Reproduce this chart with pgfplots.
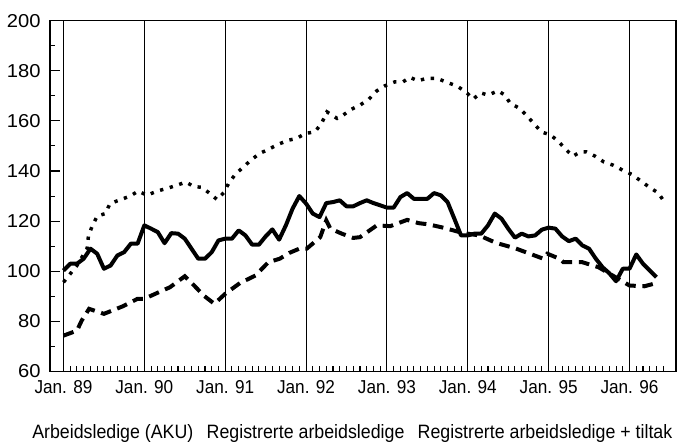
\documentclass[border=0pt]{standalone}
\usepackage{pgfplots}
\pgfplotsset{compat=1.18}
\usepackage{fontspec}
\setmainfont{Liberation Sans}[FakeStretch=0.92]
\newfontfamily\yfont{Liberation Sans}[FakeStretch=1.08]
\begin{document}
\begin{tikzpicture}
\begin{axis}[
  scale only axis,
  width=469.5pt, height=263.1pt,
  xmin=-2, xmax=90.9, ymin=60, ymax=200,
  xtick={0,12,24,36,48,60,72,84},
  xticklabels={Jan. 89,Jan. 90,Jan. 91,Jan. 92,Jan. 93,Jan. 94,Jan. 95,Jan. 96},
  minor xtick={1,...,11,13,14,...,23,25,26,...,35,37,38,...,47,49,50,...,59,61,62,...,71,73,74,...,83,85,86,...,89},
  ytick={60,80,...,200},
  minor ytick={70,90,...,190},
  xtick pos=left, ytick pos=left,
  tick align=inside,
  major tick length=7.5pt, minor tick length=4pt,
  xmajorgrids, major grid style={black, line width=0.8pt},
  tick style={black, line width=0.8pt},
  axis line style={black, line width=0.9pt},
  /pgf/number format/assume math mode=true,
  xticklabel style={font=\fontsize{14}{16}\selectfont, yshift=-3.5pt},
  yticklabel style={font=\yfont\fontsize{14}{16}\selectfont, xshift=-3.5pt},
  xlabel={Arbeidsledige (AKU)\hspace{10pt}Registrerte arbeidsledige\hspace{10pt}Registrerte arbeidsledige + tiltak},
  xlabel style={font=\fontsize{14.5}{17}\selectfont, xshift=-8pt, yshift=-16pt},
  clip=false,
]
% Arbeidsledige (AKU)
\addplot[black, line width=3pt, line join=round] coordinates {
(0,100.3)(1,103)(2,103)(3,105)(4,109)(5,107)(6,101)(7,102.3)(8,106.3)(9,107.6)(10,111)(11,111)
(12,118.3)(13,117)(14,115.6)(15,111.2)(16,115.2)(17,115)(18,113)(19,109)(20,105)(21,105)(22,107.6)(23,112.3)
(24,113)(25,113)(26,116.3)(27,114.3)(28,110.6)(29,110.6)(30,113.9)(31,116.7)(32,112.6)(33,118.3)(34,125)(35,130)
(36,127)(37,123)(38,121.6)(39,127.2)(40,127.6)(41,128.3)(42,125.9)(43,125.9)(44,127.2)(45,128.3)(46,127.2)(47,126.3)
(48,125.4)(49,125.4)(50,129.6)(51,131.2)(52,128.9)(53,128.9)(54,128.9)(55,131.2)(56,130.3)(57,127.6)(58,121)(59,114.3)
(60,114.3)(61,115)(62,115)(63,118.3)(64,123)(65,121)(66,117)(67,113.4)(68,115)(69,113.9)(70,114.3)(71,116.6)
(72,117.4)(73,117)(74,113.9)(75,112)(76,113)(77,110.3)(78,109)(79,105)(80,101.6)(81,99.2)(82,96)(83,101)
(84,101)(85,106.7)(86,103)(87,100.3)(88,97.6)
};
% Registrerte arbeidsledige
\addplot[black, line width=3pt, dash pattern=on 8pt off 5pt] coordinates {
(0,74.3)(2,76.3)(2.7,80.3)(3.8,85)(6,83)(8.8,86)(11,89)(12,89)(14.7,92.3)(15.8,93.6)(18,98)(19.5,94)
(20.8,90.3)(22.4,87)(24,91)(26.2,95.3)(28.5,98.3)(30.4,103.6)(32.1,105)(33.5,107.3)(35,109)(36.1,109)
(38.1,113.6)(39,120.3)(39.6,117)(41.3,115)(43,113.3)(44,113.6)(46.5,118.3)(48.5,118)(51,120.5)(52.7,119.2)
(54.2,118.7)(56.5,117.3)(59.2,115.3)(61.7,114.3)(64.2,111.3)(67,109.2)(69.6,106.6)(71.2,105)(71.8,107)
(73.6,105)(74.2,103.6)(77,103.6)(79.4,101.6)(82,97.5)(84,94.3)(86.2,94)(88.3,95.5)
};
% Registrerte arbeidsledige + tiltak
\addplot[black, line width=2.6pt, dash pattern=on 2.5pt off 5pt] coordinates {
(0,95.6)(2,102.3)(3.5,109)(3.7,114)(4.2,117.6)(5,122)(6.2,123)(6.9,127)(8.4,128.5)(9.9,130)(11.1,132)
(12.4,130.3)(13.9,132)(15.3,133)(16.8,134.3)(18.2,135.6)(19.3,133.8)(20.5,133.5)(21.6,131.3)(22.8,128.6)
(23.8,131.4)(24.5,135)(25.5,138.7)(26.7,141.6)(27.8,144.3)(29.1,147)(30.4,148.6)(31.9,150.7)(33.4,152.3)
(34.6,153)(35.9,155)(37.3,155.6)(38.3,159)(39.1,163.6)(40.6,161)(41.5,162.3)(42.7,164.6)(44,166.3)
(45.3,168.6)(46.5,172)(47.7,174)(49.2,175.6)(50.4,175.6)(51.4,177.4)(52.6,176)(53.9,177)(55.4,177)
(56.9,175.4)(58.4,173.9)(59.7,171.6)(60.8,168.7)(61.9,171.2)(63,170.3)(64.5,172)(65.5,170.3)(66.3,167)
(67.7,165)(68.8,161.9)(69.8,159)(70.9,155.6)(72.2,154.5)(73.4,152)(74.4,149)(75.6,145.9)(76.7,147.6)
(77.6,147.6)(78.9,145.9)(80.2,143.6)(81.6,142.3)(83,140.3)(84.3,138.7)(85.7,136)(86.9,133.6)(88.3,131.2)(89,128.3)
};
\end{axis}
\pgfresetboundingbox
\path[use as bounding box] (-37.5pt,-55.9pt) rectangle (471pt,278.6pt);
\end{tikzpicture}
\end{document}
